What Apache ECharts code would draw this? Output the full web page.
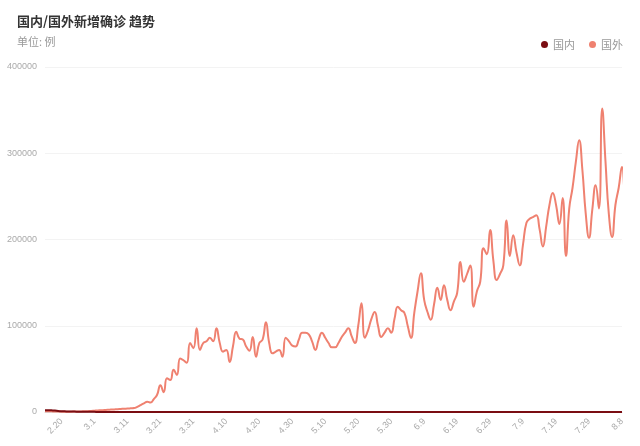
<!DOCTYPE html>
<html><head><meta charset="utf-8">
<script src="https://cdn.jsdelivr.net/npm/echarts@6/dist/echarts.min.js"></script>
<style>html,body{margin:0;padding:0;background:#fff}#c{width:640px;height:446px}</style>
</head><body><div id="c"></div>
<script>
// daily dates 2.15 .. 8.8
const monthDays = [29,31,30,31,30,31,31];
const categories = [];
(function(){let m=2,d=15;while(true){categories.push(m+'.'+d);if(m===8&&d===8)break;d++;if(d>monthDays[m-2]){d=1;m++;}}})();

const foreignK = [
1,1,0.8,0.6,0.5,0.4,0.3,0.3,0.4,0.5,
0.6,0.7,0.8,1.0,1.2,1.5,1.8,2,2.3,2.6,
2.8,3,3.2,3.5,3.8,4,4.3,4.6,6,8,
10,12,11,15,20,31,23,39,37,49,
43,62,60,57,80,74,97,72,80,82,
86,82,97,80,70,72,58,76,93,85,
84,76,71,87,64,80,84,104,80,68,
70,72,64,86,82,77,76,84,92,92,
90,82,72,84,92,86,80,75,
75,80,87,92,97,88,80,100,126,86,
95,108,116,100,87,92,97,92,108,122,
118,115,100,86,115,140,161,130,116,107,
125,144,130,147,130,118,128,138,174,151,
160,170,122,140,151,190,183,211,175,153,
160,170,222,181,205,185,170,195,219,224,
226,228,212,192,215,240,254,240,218,248,
181,236,260,290,315,280,230,202,235,263,
236,352,290,230,203,240,260,284,249,294
];
const foreign = foreignK.map(v=>Math.round(v*1000));

const domestic = [
2000,2000,1900,1700,1200,900,800,500,600,450,
400,300,300,200,200,150,120,100,80,60,
40,30,20,20,30,40,50,60,80,100,
120,100,90,80,70,60,50,40,40,50,
60,80,100,80,60,50,40,30,30,40,
50,30,20,20,10,10,10,10,10,10,
10,10,10,10,10,10,10,10,10,10,
10,10,10,10,10,10,10,10,10,10,
10,10,10,10,10,10,10,10,10,10,
10,10,10,10,10,10,10,10,10,10,
10,10,10,10,10,10,10,10,10,10,
10,10,10,10,10,10,10,10,10,10,
30,40,30,20,20,10,10,10,10,10,
10,10,10,10,10,10,10,20,20,20,
20,30,40,50,60,80,100,120,110,100,
100,90,100,100,110,120,130,140,120,100,
110,100,90,80,80,90,90,100,120,110,
100,90,80,70,60,50
];

const yTicks = [0,100000,200000,300000,400000];

const chart = echarts.init(document.getElementById('c'));
chart.setOption({
  animation:false,
  title:{text:'国内/国外新增确诊 趋势',left:12,top:10,textStyle:{fontSize:13,fontWeight:'bold',color:'#333',fontFamily:'Noto Sans CJK SC'},
    subtext:'单位: 例',subtextStyle:{fontSize:11,color:'#999',fontFamily:'Noto Sans CJK SC'},itemGap:8},
  legend:{right:12,top:34,icon:'circle',itemWidth:7,itemHeight:7,itemGap:14,textStyle:{fontSize:11,color:'#999',fontFamily:'Noto Sans CJK SC'},data:['国内','国外']},
  grid:{left:45,right:18,top:67,bottom:34},
  xAxis:{type:'category',data:categories,boundaryGap:false,
    axisLine:{lineStyle:{color:'#ddd'}},axisTick:{show:false},
    axisLabel:{rotate:45,fontSize:9,color:'#aaa',interval:0,
      formatter:(v,i)=> (i%10===5)? v : ''}},
  yAxis:{type:'value',min:yTicks[0],max:yTicks[yTicks.length-1],interval:100000,
    axisLabel:{fontSize:9,color:'#aaa',formatter:v=>String(v)},axisLine:{show:false},axisTick:{show:false},
    splitLine:{lineStyle:{color:'#f3f3f3'}}},
  series:[
    {name:'国外',type:'line',data:foreign,smooth:true,symbol:'none',lineStyle:{color:'#ef8170',width:2},itemStyle:{color:'#ef8170'}},
    {name:'国内',type:'line',data:domestic,smooth:true,symbol:'none',lineStyle:{color:'#7a0d12',width:2},itemStyle:{color:'#7a0d12'}}
  ]
});
</script></body></html>
